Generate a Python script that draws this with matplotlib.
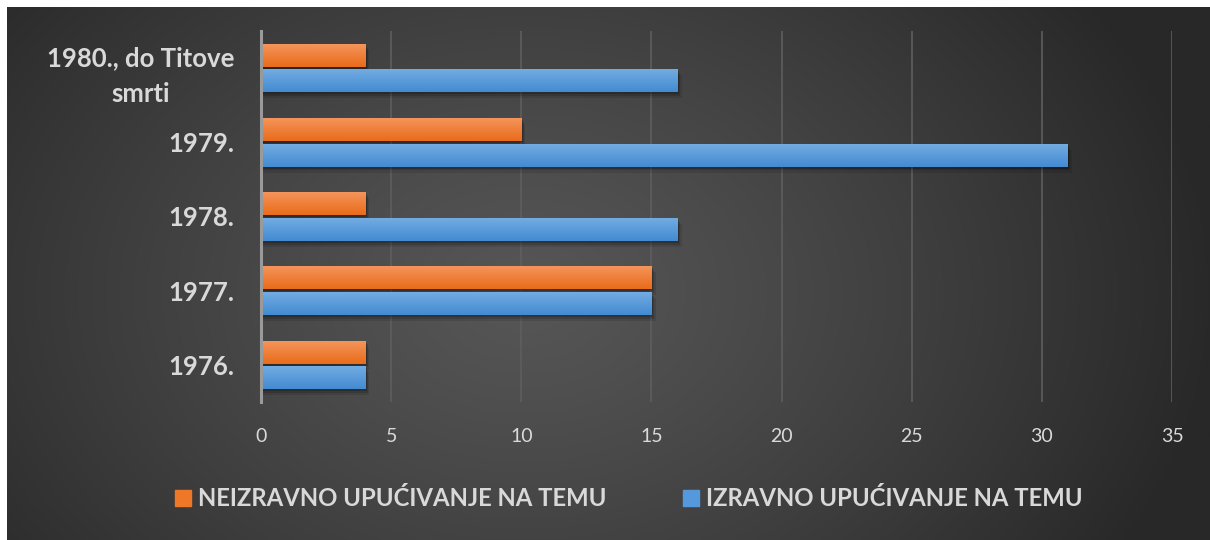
import numpy as np
import matplotlib
matplotlib.use("Agg")
import matplotlib.pyplot as plt
from matplotlib.patches import Rectangle
from matplotlib.colors import LinearSegmentedColormap

categories = ["1976.", "1977.", "1978.", "1979.", "1980., do Titove\nsmrti"]
izravno = [4, 15, 16, 31, 16]
neizravno = [4, 15, 4, 10, 4]
series_names = ["NEIZRAVNO UPUĆIVANJE NA TEMU", "IZRAVNO UPUĆIVANJE NA TEMU"]
xticks = [0, 5, 10, 15, 20, 25, 30, 35]

W, H = 1210, 540
fig = plt.figure(figsize=(W / 100, H / 100), dpi=100)
fig.patch.set_facecolor("white")

# background radial gradient
bg = fig.add_axes([7 / W, 0, 1 - 7 / W, 1 - 7 / H])
bg.set_axis_off()
yy, xx = np.mgrid[0:H, 0:W]
cx, cy = 520, 290
d = np.sqrt(((xx - cx) / 700.0) ** 2 + ((yy - cy) / 520.0) ** 2)
d = np.clip(d, 0, 1)
c0, c1 = 0x56 / 255, 0x28 / 255
val = c0 + (c1 - c0) * d ** 1.2
img = np.dstack([val, val, val])
bg.imshow(img, aspect="auto", extent=[0, 1, 0, 1], origin="upper")
bg.set_xlim(0, 1)
bg.set_ylim(0, 1)

ax = fig.add_axes([261 / W, 1 - 402 / H, (1172 - 261) / W, (402 - 31) / H])
ax.patch.set_alpha(0)
y = np.arange(len(categories))
h = 0.31
gap = 0.035

fam = ["Lato", "DejaVu Sans"]

def grad_bars(vals, offs, ctop, cbot):
    cmap = LinearSegmentedColormap.from_list("g", [cbot, ctop])
    bars = ax.barh(y + offs, vals, height=h, color=cbot, zorder=3)
    for b in bars:
        x0, y0 = b.get_x(), b.get_y()
        w, hh = b.get_width(), b.get_height()
        # soft shadow
        for k, a in [(0.08, 0.10), (0.05, 0.14), (0.028, 0.18)]:
            ax.add_patch(Rectangle((x0, y0 - k), w + k * 2.0, hh, color="black",
                                   alpha=a, zorder=2, lw=0))
        grad = np.linspace(0, 1, 50).reshape(-1, 1)
        im = ax.imshow(grad, cmap=cmap, aspect="auto",
                       extent=[x0, x0 + w, y0, y0 + hh], origin="lower",
                       zorder=4)
        im.set_clip_path(b)
    return bars

grad_bars(izravno, -(h / 2 + gap / 2), "#74ade2", "#438bd2")
grad_bars(neizravno, (h / 2 + gap / 2), "#f5965e", "#e96c1a")

ax.set_xlim(0, 35)
ax.set_ylim(-0.5, len(categories) - 0.5)
ax.set_xticks(xticks)
ax.set_xticklabels([str(t) for t in xticks], fontsize=14, color="#d9d9d9",
                   family=fam)
ax.set_yticks(y)
ax.set_yticklabels(categories, fontsize=18.5, color="#d9d9d9",
                   fontweight="bold", family=fam, ha="right",
                   multialignment="center", linespacing=1.6)
ax.tick_params(axis="y", length=0, pad=19)
ax.tick_params(axis="x", length=0, pad=19)
for s in ["top", "right", "bottom"]:
    ax.spines[s].set_visible(False)
ax.spines["left"].set_color("#9a9a9a")
ax.spines["left"].set_linewidth(2.2)
ax.spines["left"].set_zorder(5)
for t in xticks[1:]:
    ax.axvline(t, color="#5e5e5e", lw=1.2, zorder=1)

# legend
ly = 1 - 498 / H
fig.patches.append(Rectangle((175 / W, ly - 8 / H), 16 / W, 16 / H,
                             transform=fig.transFigure, color="#ee7728"))
fig.text(198 / W, ly, series_names[0], fontsize=17.2, fontweight="bold",
         color="#d9d9d9", va="center", ha="left", family=fam)
fig.patches.append(Rectangle((683 / W, ly - 8 / H), 16 / W, 16 / H,
                             transform=fig.transFigure, color="#5599dc"))
fig.text(706 / W, ly, series_names[1], fontsize=17.2, fontweight="bold",
         color="#d9d9d9", va="center", ha="left", family=fam)

fig.savefig("out.png", dpi=100, facecolor="white")
